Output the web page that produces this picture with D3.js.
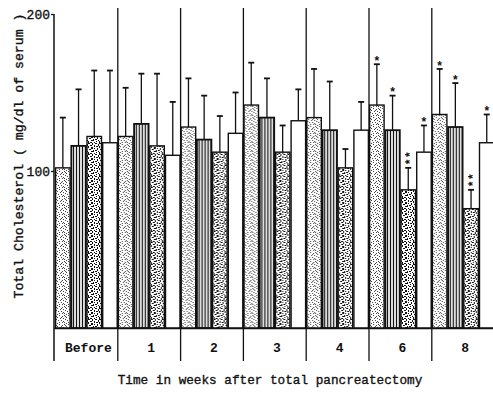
<!DOCTYPE html>
<html><head><meta charset="utf-8">
<script src="https://cdn.jsdelivr.net/npm/d3@7"></script>
<style>
html,body{margin:0;padding:0;background:#fff;}
svg{display:block;}
text{font-family:"Liberation Mono","DejaVu Sans Mono",monospace;fill:#111;}
</style></head>
<body>
<svg id="chart" width="493" height="395"></svg>
<script>
// ---- data ----
const groups = ["Before", "1", "2", "3", "4", "6", "8"];
const series = ["A", "B", "C", "D"];
// mean total cholesterol (mg/dl), one row per group, one column per series
const means = [
  [102, 116, 122, 118],
  [122, 130, 116, 110],
  [128, 120, 112, 124],
  [142, 134, 112, 132],
  [134, 126, 102, 126],
  [142, 126, 88, 112],
  [136, 128, 76, 118]
];
// standard deviation (upper error bar)
const sds = [
  [32, 36, 42, 46],
  [31, 32, 46, 34],
  [31, 28, 23, 26],
  [27, 25, 17, 20],
  [31, 31, 12, 18],
  [26, 22, 14, 17],
  [29, 28, 12, 18]
];
// significance marks
const marks = [
  ["", "", "", ""],
  ["", "", "", ""],
  ["", "", "", ""],
  ["", "", "", ""],
  ["", "", "", ""],
  ["*", "*", "**", "*"],
  ["*", "*", "**", "*"]
];
const yTicks = [100, 200];
const yTitle = "Total Cholesterol ( mg/dl of serum )";
const xTitle = "Time in weeks after total pancreatectomy";

// ---- drawing ----
const svg = d3.select("#chart");
const x0 = 55, base = 328, yTop = 14, labelBottom = 361;
const groupW = 62.8;

const x = d3.scaleBand().domain(groups).range([x0, x0 + groupW * groups.length]).padding(0);
const xs = d3.scaleBand().domain(series).range([0, x.bandwidth()]).padding(0);
const y = d3.scaleLinear().domain([0, 200]).range([base, yTop]);

// patterns
const defs = svg.append("defs");
// fine stipple
const p1 = defs.append("pattern").attr("id", "pA").attr("patternUnits", "userSpaceOnUse")
  .attr("width", 9).attr("height", 9);
p1.append("rect").attr("width", 9).attr("height", 9).attr("fill", "#fff");
[[0,0],[4,0],[7,1],[2,2],[5,3],[8,3],[1,4],[3,5],[6,5],[0,7],[4,7],[7,7],[2,8],[6,2],[1,1],[8,6]].forEach(([a,b]) =>
  p1.append("rect").attr("x", a).attr("y", b).attr("width", 1).attr("height", 1).attr("fill", "#444"));
// vertical stripes
const p2 = defs.append("pattern").attr("id", "pB").attr("patternUnits", "userSpaceOnUse")
  .attr("width", 3).attr("height", 4);
p2.append("rect").attr("width", 3).attr("height", 4).attr("fill", "#ddd");
p2.append("rect").attr("x", 0).attr("width", 1).attr("height", 4).attr("fill", "#111");
// coarse speckle
const p3 = defs.append("pattern").attr("id", "pC").attr("patternUnits", "userSpaceOnUse")
  .attr("width", 11).attr("height", 11);
p3.append("rect").attr("width", 11).attr("height", 11).attr("fill", "#fff");
[[0,0,2,1],[4,0,1,2],[7,0,2,1],[10,1,1,2],[2,2,2,1],[6,2,1,2],[8,3,2,1],[0,3,1,2],[3,4,2,2],[9,5,1,2],
 [6,5,1,1],[1,6,2,1],[5,7,1,2],[7,7,2,1],[0,9,1,2],[3,8,2,1],[8,9,1,1],[10,8,1,1],[2,10,2,1],[6,10,1,1]].forEach(([a,b,w,h]) =>
  p3.append("rect").attr("x", a).attr("y", b).attr("width", w).attr("height", h).attr("fill", "#111"));
const fills = {A: "url(#pA)", B: "url(#pB)", C: "url(#pC)", D: "#fff"};

// bars
const gG = svg.append("g").selectAll("g").data(groups).join("g")
  .attr("transform", g => `translate(${x(g)},0)`);

gG.each(function(g, gi) {
  const sel = d3.select(this);
  series.forEach((s, si) => {
    const m = means[gi][si], sd = sds[gi][si];
    const bx = xs(s), bw = xs.bandwidth();
    const cx = bx + bw / 2;
    // error bar
    sel.append("line").attr("x1", cx).attr("x2", cx).attr("y1", y(m)).attr("y2", y(m + sd))
      .attr("stroke", "#111").attr("stroke-width", 1.3);
    sel.append("line").attr("x1", cx - 3).attr("x2", cx + 3).attr("y1", y(m + sd)).attr("y2", y(m + sd))
      .attr("stroke", "#111").attr("stroke-width", 1.8);
    sel.append("rect").attr("x", bx + 0.6).attr("y", y(m)).attr("width", bw - 1.2).attr("height", base - y(m))
      .attr("fill", fills[s]).attr("stroke", "#111").attr("stroke-width", s === "B" ? 1.8 : 1.4);
    const mk = marks[gi][si];
    if (mk.length > 1) {
      // stacked asterisks: the mark string rotated so its characters stack vertically
      const yc = y(m + sd) - 6 - (mk.length - 1) * 3.5;
      sel.append("text")
        .attr("transform", `translate(${cx},${yc}) rotate(-90)`)
        .attr("text-anchor", "middle").attr("dominant-baseline", "central").attr("dy", "0.22em")
        .attr("font-size", 12).attr("font-weight", "bold").attr("fill", "#111")
        .text(mk);
    } else if (mk.length === 1) {
      sel.append("text").attr("x", cx).attr("y", y(m + sd) + 0.8)
        .attr("text-anchor", "middle")
        .attr("font-size", 12).attr("font-weight", "bold").attr("fill", "#111")
        .text(mk);
    }
  });
});

// baseline
svg.append("line").attr("x1", x0 - 1).attr("x2", 493).attr("y1", base + 0.5).attr("y2", base + 0.5)
  .attr("stroke", "#111").attr("stroke-width", 1.5);

// group separators
svg.append("g").selectAll("line").data(groups.slice(1)).join("line")
  .attr("x1", g => x(g)).attr("x2", g => x(g)).attr("y1", 8).attr("y2", labelBottom)
  .attr("stroke", "#111").attr("stroke-width", 1.3);

// y axis
const yAxis = d3.axisLeft(y).tickValues(yTicks).tickSize(3).tickPadding(1).tickFormat(d3.format("d"));
const ya = svg.append("g").attr("transform", `translate(${x0 - 1},0)`).call(yAxis);
ya.select(".domain").remove();
ya.selectAll("text").attr("font-size", 13).attr("font-family", "Liberation Mono, monospace")
  .attr("fill", "#111").attr("stroke", "#111").attr("stroke-width", 0.35);
ya.selectAll("line").attr("stroke", "#111").attr("stroke-width", 1.3);
svg.append("line").attr("x1", x0 - 1).attr("x2", x0 - 1).attr("y1", yTop).attr("y2", labelBottom)
  .attr("stroke", "#111").attr("stroke-width", 1.5);

// group labels
svg.append("g").selectAll("text").data(groups).join("text")
  .attr("x", g => x(g) + x.bandwidth() / 2 + 2).attr("y", 352)
  .attr("text-anchor", "middle").attr("font-size", 13).attr("font-weight", "bold").text(g => g);

// axis titles
svg.append("text").attr("x", 270).attr("y", 384).attr("text-anchor", "middle")
  .attr("font-size", 12.7).attr("stroke", "#111").attr("stroke-width", 0.35).text(xTitle);
svg.append("text").attr("transform", "translate(23,156) rotate(-90)").attr("text-anchor", "middle")
  .attr("font-size", 13.2).attr("stroke", "#111").attr("stroke-width", 0.35).text(yTitle);
</script>
</body></html>
